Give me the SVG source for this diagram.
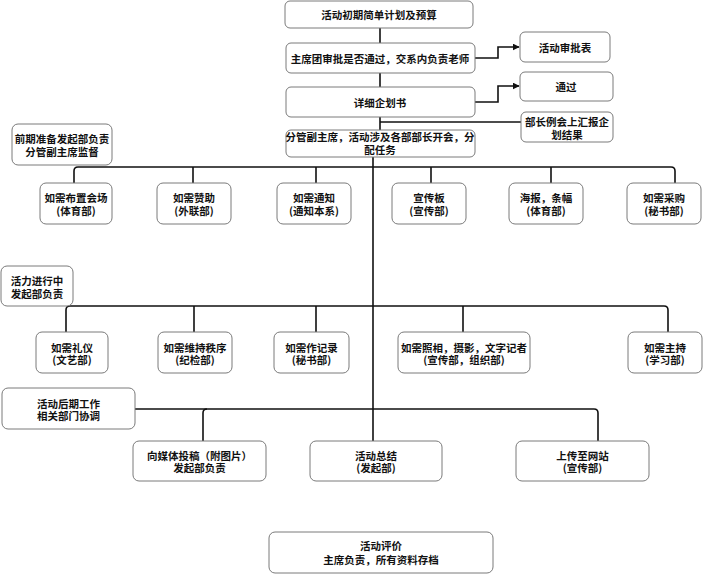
<svg xmlns="http://www.w3.org/2000/svg" width="703" height="574" viewBox="0 0 703 574">
<defs>
<style>
.box{fill:#fff;stroke:#7a7a7a;stroke-width:1}
.t{font-family:"Noto Sans CJK SC","Noto Sans",sans-serif;font-size:10.5px;font-weight:bold;fill:#111;text-anchor:middle;dominant-baseline:central}
.c{fill:none;stroke:#111;stroke-width:1.6}
</style>
<marker id="arr" viewBox="0 0 10 10" refX="9" refY="5" markerWidth="7" markerHeight="7" orient="auto" markerUnits="userSpaceOnUse">
<path d="M0,0 L10,5 L0,10 Z" fill="#111"/>
</marker>
</defs>
<rect width="703" height="574" fill="#fff"/>
<g id="connectors">
<path class="c" d="M380,28 V43"/>
<path class="c" d="M380,73 V87"/>
<path class="c" d="M380,117 V130"/>
<path class="c" d="M521,122 H380"/>
<path class="c" d="M475,58 H498 V47 H519" marker-end="url(#arr)"/>
<path class="c" d="M475,102 H498 V86 H519" marker-end="url(#arr)"/>
<path class="c" d="M373,157 V441"/>
<path class="c" d="M74,183 V171 Q74,167 78,167 H671 Q675,167 675,171 V183"/>
<path class="c" d="M193,167 V183 M316,167 V183 M431,167 V183 M551,167 V183"/>
<path class="c" d="M66,332 V310 Q66,306 70,306 H664 Q668,306 668,310 V332"/>
<path class="c" d="M194,306 V332 M316,306 V332 M463,306 V332"/>
<path class="c" d="M135,409 H594 Q598,409 598,413 V441"/>
<path class="c" d="M203,441 V413 Q203,409 207,409"/>
</g>
<g id="n1"><rect class="box" x="285" y="1" width="188" height="27" rx="5"/><text class="t" x="379" y="14.5">活动初期简单计划及预算</text></g>
<g id="n2"><rect class="box" x="286" y="43" width="189" height="30" rx="5"/><text class="t" x="380" y="58">主席团审批是否通过，交系内负责老师</text></g>
<g id="n3"><rect class="box" x="520" y="32" width="90" height="30" rx="5"/><text class="t" x="565" y="47">活动审批表</text></g>
<g id="n4"><rect class="box" x="286" y="87" width="189" height="30" rx="5"/><text class="t" x="380" y="102">详细企划书</text></g>
<g id="n5"><rect class="box" x="520" y="72" width="93" height="29" rx="5"/><text class="t" x="566" y="86">通过</text></g>
<g id="n6"><rect class="box" x="521" y="112" width="92" height="30" rx="5"/><text class="t" x="567" y="121.5">部长例会上汇报企</text><text class="t" x="567" y="134.5">划结果</text></g>
<g id="n7"><rect class="box" x="286" y="130" width="189" height="27" rx="5"/><text class="t" x="380" y="136.5">分管副主席，活动涉及各部部长开会，分</text><text class="t" x="380" y="149.5">配任务</text></g>
<g id="n8"><rect class="box" x="12" y="124" width="100" height="41" rx="6"/><text class="t" x="62" y="138">前期准备发起部负责</text><text class="t" x="62" y="151">分管副主席监督</text></g>
<g id="r1a"><rect class="box" x="40" y="183" width="72" height="41" rx="6"/><text class="t" x="76" y="197.5">如需布置会场</text><text class="t" x="76" y="210">(体育部)</text></g>
<g id="r1b"><rect class="box" x="157" y="183" width="74" height="41" rx="6"/><text class="t" x="194" y="197.5">如需赞助</text><text class="t" x="194" y="210">(外联部)</text></g>
<g id="r1c"><rect class="box" x="277" y="183" width="74" height="41" rx="6"/><text class="t" x="314" y="197.5">如需通知</text><text class="t" x="314" y="210">(通知本系)</text></g>
<g id="r1d"><rect class="box" x="392" y="183" width="74" height="41" rx="6"/><text class="t" x="429" y="197.5">宣传板</text><text class="t" x="429" y="210">(宣传部)</text></g>
<g id="r1e"><rect class="box" x="509" y="183" width="74" height="41" rx="6"/><text class="t" x="546" y="197.5">海报，条幅</text><text class="t" x="546" y="210">(体育部)</text></g>
<g id="r1f"><rect class="box" x="627" y="183" width="74" height="41" rx="6"/><text class="t" x="664" y="197.5">如需采购</text><text class="t" x="664" y="210">(秘书部)</text></g>
<g id="n9"><rect class="box" x="1" y="266" width="72" height="40" rx="6"/><text class="t" x="37" y="280">活力进行中</text><text class="t" x="37" y="293">发起部负责</text></g>
<g id="r2a"><rect class="box" x="36" y="332" width="72" height="41" rx="6"/><text class="t" x="72" y="347">如需礼仪</text><text class="t" x="72" y="359.5">(文艺部)</text></g>
<g id="r2b"><rect class="box" x="158" y="332" width="74" height="41" rx="6"/><text class="t" x="195" y="347">如需维持秩序</text><text class="t" x="195" y="359.5">(纪检部)</text></g>
<g id="r2c"><rect class="box" x="274" y="332" width="75" height="41" rx="6"/><text class="t" x="311.5" y="347">如需作记录</text><text class="t" x="311.5" y="359.5">(秘书部)</text></g>
<g id="r2d"><rect class="box" x="398" y="332" width="132" height="41" rx="6"/><text class="t" x="464" y="347">如需照相，摄影，文字记者</text><text class="t" x="464" y="359.5">(宣传部，组织部)</text></g>
<g id="r2e"><rect class="box" x="628" y="332" width="74" height="41" rx="6"/><text class="t" x="665" y="347">如需主持</text><text class="t" x="665" y="359.5">(学习部)</text></g>
<g id="n10"><rect class="box" x="2" y="388" width="133" height="41" rx="6"/><text class="t" x="68.5" y="403">活动后期工作</text><text class="t" x="68.5" y="415.5">相关部门协调</text></g>
<g id="r3a"><rect class="box" x="133" y="441" width="133" height="40" rx="6"/><text class="t" x="199.5" y="455">向媒体投稿（附图片）</text><text class="t" x="199.5" y="467.5">发起部负责</text></g>
<g id="r3b"><rect class="box" x="310" y="441" width="132" height="40" rx="6"/><text class="t" x="376" y="455">活动总结</text><text class="t" x="376" y="467.5">(发起部)</text></g>
<g id="r3c"><rect class="box" x="516" y="441" width="133" height="40" rx="6"/><text class="t" x="582.5" y="455">上传至网站</text><text class="t" x="582.5" y="467.5">(宣传部)</text></g>
<g id="n11"><rect class="box" x="269" y="532" width="224" height="41" rx="6"/><text class="t" x="381" y="545.5">活动评价</text><text class="t" x="381" y="559">主席负责，所有资料存档</text></g>
</svg>
